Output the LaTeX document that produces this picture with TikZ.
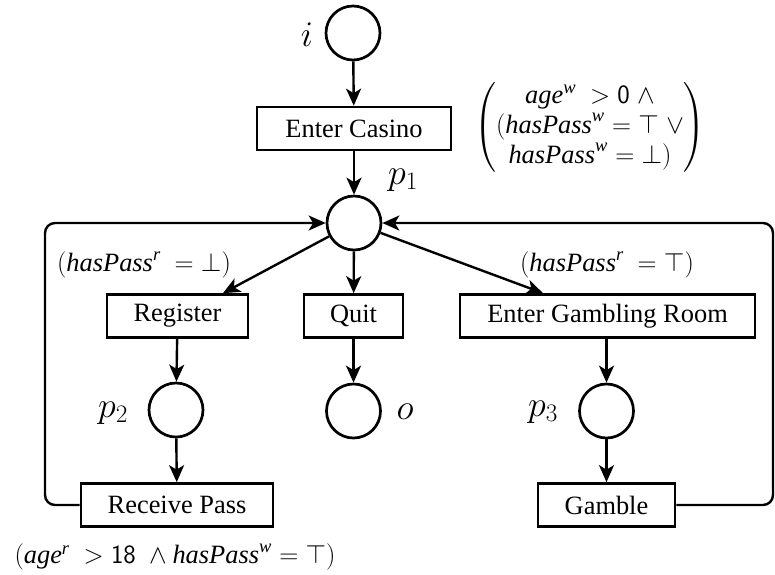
\RequirePackage{fix-cm}
\documentclass[tikz,border=0pt]{standalone}
\usepackage{amsmath}
\usepackage{exscale}
\usepackage[no-math]{fontspec}
\setmainfont{Liberation Serif}[ItalicFont={Liberation Serif Italic}]
\usetikzlibrary{arrows.meta,calc}
\newcommand{\HasP}{\text{\itshape hasPass}}
\newcommand{\AgeV}{\text{\itshape age}}
\newcommand{\SupW}{^{\text{\itshape w}}}
\newcommand{\SupR}{^{\text{\itshape r}}}
\begin{document}
\begin{tikzpicture}[x=1pt,y=-1pt,
  font=\fontsize{26.4}{30}\selectfont,
  place/.style={draw,circle,line width=2.7pt,minimum size=54pt,inner sep=0pt},
  trans/.style={draw,rectangle,line width=2.7pt,minimum height=43pt,inner sep=0pt},
  arr/.style={line width=2.4pt,-{Stealth[length=17pt,width=15pt,inset=4.5pt]}},
  lab/.style={font=\fontsize{36}{40}\selectfont},
  guard/.style={inner sep=0pt}]
\useasboundingbox (0,0) rectangle (775,574);
% places
\node[place] (i)  at (353,33) {};
\node[place] (p1) at (354,223) {};
\node[place] (p2) at (176,410) {};
\node[place] (o)  at (353.5,411) {};
\node[place] (p3) at (606.5,411) {};
% transitions
\node[trans,minimum width=194pt] (ec)  at (354,128.5) {Enter Casino};
\node[trans,minimum width=141pt] (reg) at (177.5,316) {Register};
\node[trans,minimum width=99pt]  (quit) at (353.5,316) {Quit};
\node[trans,minimum width=295pt] (egr) at (607.5,316) {Enter Gambling Room};
\node[trans,minimum width=192pt] (rp)  at (177,505) {Receive Pass};
\node[trans,minimum width=137pt] (gam) at (606.5,505) {Gamble};
% place labels
\node[lab] (li)  at (307,35) {$i$};
\node[lab] (lp1) at (403,180) {$p_1$};
\node[lab] (lp2) at (113,413) {$p_2$};
\node[lab] (lo)  at (405,412) {$o$};
\node[lab] (lp3) at (543,412) {$p_3$};
% guards
\node[guard] (g1) at (590,127) {$\left(\begin{array}{@{}c@{}}
  \AgeV\SupW\ > \mathsf{0}\;\wedge\\
  (\HasP\SupW = \top\;\vee\\
  \HasP\SupW = \bot)
  \end{array}\right)$};
\node[guard] (g2) at (144,265) {$(\HasP\SupR\ = \bot)$};
\node[guard] (g3) at (607,265) {$(\HasP\SupR\ = \top)$};
\node[guard] (g4) at (175,557) {$(\AgeV\SupR\ > \mathsf{18}\;\wedge \HasP\SupW = \top)$};
% arcs
\draw[arr] (i) -- (ec);
\draw[arr] (ec) -- (p1);
\draw[arr] (p1) -- ([xshift=45.5pt]reg.north);
\draw[arr] (p1) -- (quit);
\draw[arr] (p1) -- ([xshift=-64.5pt]egr.north);
\draw[arr] (reg) -- (p2);
\draw[arr] (p2) -- (rp);
\draw[arr] (quit) -- (o);
\draw[arr] (egr.south -| p3) -- (p3);
\draw[arr] (p3) -- (gam);
\coordinate (lc) at (45,223);
\coordinate (rc) at (773,223);
\draw[arr,rounded corners=10pt] (rp.west) -| (lc) -- (p1.west);
\draw[arr,rounded corners=10pt] (gam.east) -| (rc) -- (p1.east);
\end{tikzpicture}
\end{document}
